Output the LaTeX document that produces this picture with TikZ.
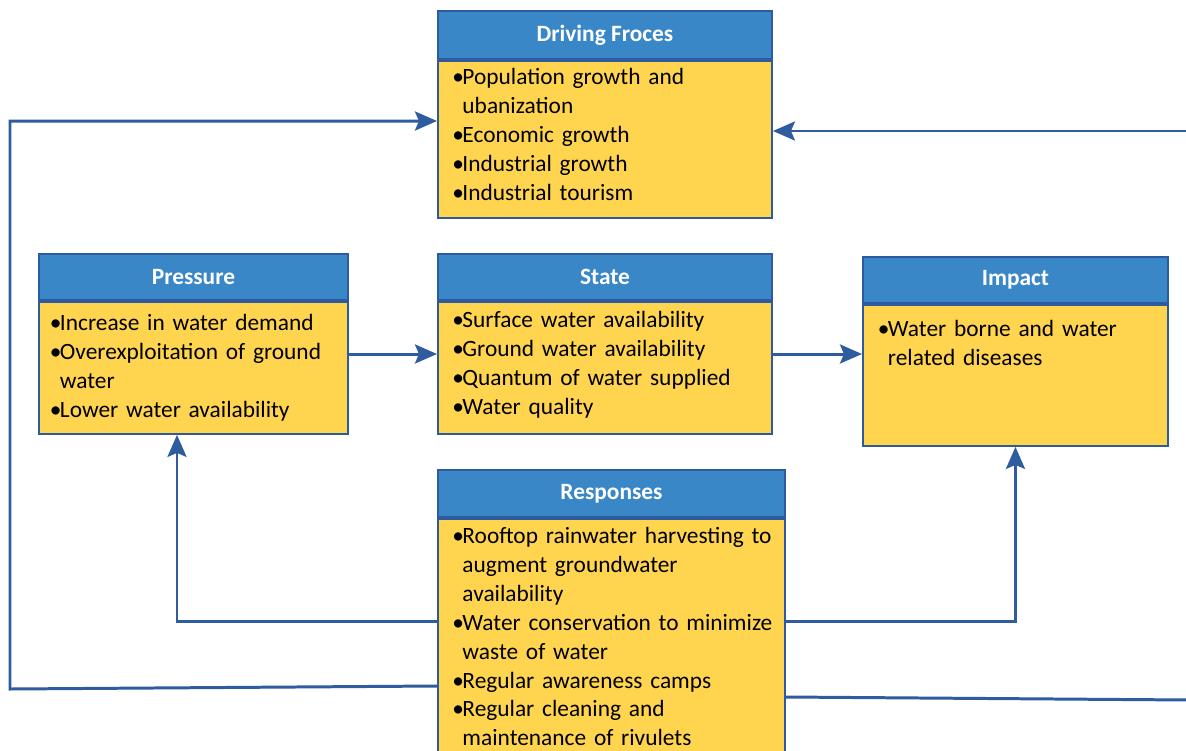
\documentclass[tikz,border=0pt]{standalone}
\usepackage{fontspec}
\setmainfont{Carlito}
\usetikzlibrary{positioning,arrows.meta}

\definecolor{hdrblue}{RGB}{58,135,200}
\definecolor{boxyel}{RGB}{255,213,80}
\definecolor{bordc}{RGB}{46,90,160}
\definecolor{linkc}{RGB}{47,92,159}

\newcommand{\bl}{\makebox[0.2cm][l]{•}}
\newcommand{\ind}{\hspace*{0.2cm}}

\tikzset{
  hdr/.style={draw=bordc, line width=1.1pt, fill=hdrblue, text=white, anchor=north west,
    font=\bfseries\fontsize{13.3}{16}\selectfont, inner sep=0pt},
  body/.style={draw=bordc, line width=1.1pt, fill=boxyel, align=left, inner xsep=0.29cm, inner ysep=0pt,
    font=\fontsize{13.3}{16.4}\selectfont},
  link/.style={draw=linkc, line width=1.7pt, -{Stealth[length=0.44cm,width=0.38cm,inset=0.08cm]}},
  plain/.style={draw=linkc, line width=1.7pt}
}

\begin{document}
\begin{tikzpicture}
	\clip (0,0) rectangle (23.72,-15);
	\fill[white] (0,0) rectangle (23.72,-15);
	% boxes
	\node[hdr, minimum width=6.68cm, minimum height=0.96cm] (drv) at (8.74,-0.2) {Driving Froces};
	\node[body, below=0pt of drv, minimum width=6.68cm, text width=6.1cm, text height=0.48cm, text depth=2.66cm] (drvbody)
		{\bl Population growth and\\ \ind ubanization\\ \bl Economic growth\\ \bl Industrial growth\\ \bl Industrial tourism};

	\node[hdr, minimum width=6.18cm, minimum height=0.92cm] (prs) at (0.76,-5.06) {Pressure};
	\node[body, below=0pt of prs, minimum width=6.18cm, inner xsep=0.22cm, text width=5.74cm, text height=0.58cm, text depth=2.06cm] (prsbody)
		{\bl Increase in water demand\\ \bl Overexploitation of ground\\ \ind water\\ \bl Lower water availability};

	\node[hdr, minimum width=6.68cm, minimum height=0.92cm] (st) at (8.74,-5.06) {State};
	\node[body, below=0pt of st, minimum width=6.68cm, text width=6.1cm, text height=0.52cm, text depth=2.12cm] (stbody)
		{\bl Surface water availability\\ \bl Ground water availability\\ \bl Quantum of water supplied\\ \bl Water quality};

	\node[hdr, minimum width=6.1cm, minimum height=0.92cm] (imp) at (17.24,-5.12) {Impact};
	\node[body, below=0pt of imp, minimum width=6.1cm, inner xsep=0.3cm, text width=5.5cm, text height=0.64cm, text depth=2.18cm] (impbody)
		{\bl Water borne and water\\ \ind related diseases};

	\node[hdr, minimum width=6.94cm, minimum height=0.94cm] (res) at (8.74,-9.38) {Responses};
	\node[body, below=0pt of res, minimum width=6.94cm, text width=6.36cm, text height=0.5cm, text depth=4.5cm] (resbody)
		{\bl\mbox{Rooftop rainwater harvesting to}\\ \ind augment groundwater\\ \ind availability\\
		 \bl\mbox{Water conservation to minimize}\\ \ind waste of water\\ \bl Regular awareness camps\\
		 \bl Regular cleaning and\\ \ind maintenance of rivulets};

	% connectors
	\coordinate (lftB) at (0.2,-13.78);
	\coordinate (lftT) at (0.2,-2.42);
	\coordinate (rgtT) at (23.8,-2.62);
	\coordinate (rgtB) at (23.8,-14.0);
	\draw[link] (resbody.west |- 0,-13.72) -- (lftB) -- (lftT) -- (drvbody.west |- lftT);
	\draw[link] (rgtT) -- (drvbody.east |- rgtT);
	\draw[plain] (resbody.east |- 0,-13.94) -- (rgtB);
	\draw[link] (prsbody.east |- 0,-7.08) -- (stbody.west |- 0,-7.08);
	\draw[link] (stbody.east |- 0,-7.08) -- (impbody.west |- 0,-7.08);
	\draw[link] (resbody.west |- 0,-12.42) -| (prsbody.south -| 3.54,0);
	\draw[link] (resbody.east |- 0,-12.42) -| (impbody.south);
\end{tikzpicture}
\end{document}
